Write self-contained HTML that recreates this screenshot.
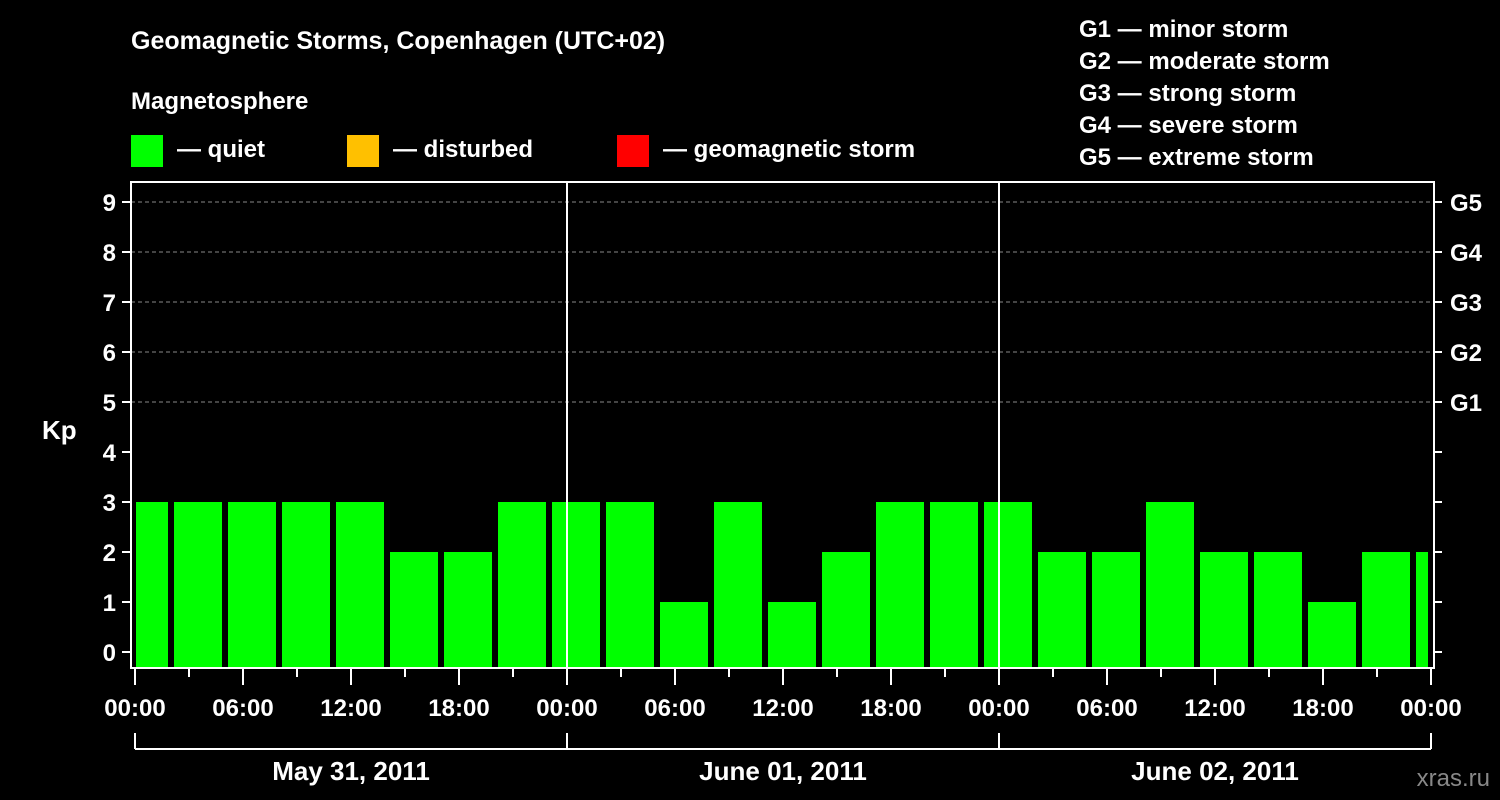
<!DOCTYPE html>
<html><head><meta charset="utf-8"><style>
html,body{margin:0;padding:0;background:#000;}
svg{display:block;font-family:"Liberation Sans",Arial,sans-serif;font-weight:bold;}
</style></head><body>
<svg id="chart" width="1500" height="800" viewBox="0 0 1500 800">
<rect x="0" y="0" width="1500" height="800" fill="#000"/>
<text x="131" y="49" fill="#fff" font-size="25">Geomagnetic Storms, Copenhagen (UTC+02)</text>
<text x="131" y="109" fill="#fff" font-size="24">Magnetosphere</text>
<g><rect x="131" y="135" width="32" height="32" fill="#00ff00"/><text x="177" y="157" fill="#fff" font-size="24">— quiet</text></g>
<g><rect x="347" y="135" width="32" height="32" fill="#ffc000"/><text x="393" y="157" fill="#fff" font-size="24">— disturbed</text></g>
<g><rect x="617" y="135" width="32" height="32" fill="#ff0000"/><text x="663" y="157" fill="#fff" font-size="24">— geomagnetic storm</text></g>
<g fill="#fff" font-size="24">
<text x="1079" y="37">G1 — minor storm</text>
<text x="1079" y="69">G2 — moderate storm</text>
<text x="1079" y="101">G3 — strong storm</text>
<text x="1079" y="133">G4 — severe storm</text>
<text x="1079" y="165">G5 — extreme storm</text>
</g>
<text x="42" y="439" fill="#fff" font-size="26">Kp</text>
<text x="1490" y="786" fill="#888" font-size="24" text-anchor="end" font-weight="normal">xras.ru</text>
<g id="plot"></g>
</svg>
<script>
const kpValues=[3,3,3,3,3,2,2,3,3,3,1,3,1,2,3,3,3,2,2,3,2,2,1,2,2];
const yTicks=[0,1,2,3,4,5,6,7,8,9];
const gLabels=["G1","G2","G3","G4","G5"];
const xLabels=["00:00","06:00","12:00","18:00","00:00","06:00","12:00","18:00","00:00","06:00","12:00","18:00","00:00"];
const dayLabels=["May 31, 2011","June 01, 2011","June 02, 2011"];
const X0=135,PXH=18,L=131,R=1434,T=182,B=668;
const xs=h=>X0+h*PXH;
const ys=v=>652-50*v;
const g=document.getElementById('plot');
const NS='http://www.w3.org/2000/svg';
function mk(t,a,p){const e=document.createElementNS(NS,t);for(const k in a)e.setAttribute(k,a[k]);(p||g).appendChild(e);return e;}
kpValues.forEach((v,i)=>{
 let h0=-1+3*i,h1=h0+3;
 let x0=Math.max(xs(h0)+3,L+5),x1=Math.min(xs(h1)-3,R-6);
 const c=v>=5?'#ff0000':(v>=4?'#ffc000':'#00ff00');
 const r=mk('rect',{x:x0,y:ys(v),width:x1-x0,height:B-1-ys(v),fill:c});
 
 
});
yTicks.forEach(v=>{
 const y=ys(v);
 mk('line',{x1:122,x2:L,y1:y,y2:y,stroke:'#fff','stroke-width':2});
 mk('line',{x1:R,x2:1442,y1:y,y2:y,stroke:'#fff','stroke-width':2});
 if(v>=5) mk('line',{x1:L,x2:R,y1:y,y2:y,stroke:'#888','stroke-width':1,'stroke-dasharray':'4,3'});
 const t=mk('text',{x:116,y:y+9,fill:'#fff','font-size':24,'text-anchor':'end'});t.textContent=v;
 
 
 if(v>=5){const gt=mk('text',{x:1450,y:y+9,fill:'#fff','font-size':24});gt.textContent=gLabels[v-5];
  
  }
});
mk('rect',{x:L,y:T,width:R-L,height:B-T,fill:'none',stroke:'#fff','stroke-width':2});
[1,2].forEach(d=>mk('line',{x1:xs(24*d),x2:xs(24*d),y1:T,y2:B,stroke:'#fff','stroke-width':2}));
for(let h=0;h<=72;h+=3){const maj=h%6===0;mk('line',{x1:xs(h),x2:xs(h),y1:B,y2:maj?685:677,stroke:'#fff','stroke-width':2});}
xLabels.forEach((s,i)=>{const t=mk('text',{x:xs(6*i),y:716,fill:'#fff','font-size':24,'text-anchor':'middle'});t.textContent=s;
 
 });
mk('line',{x1:xs(0),x2:xs(72),y1:749,y2:749,stroke:'#fff','stroke-width':2});
for(let d=0;d<=3;d++) mk('line',{x1:xs(24*d),x2:xs(24*d),y1:733,y2:749,stroke:'#fff','stroke-width':2});
dayLabels.forEach((s,i)=>{const t=mk('text',{x:xs(24*i+12),y:780,fill:'#fff','font-size':26,'text-anchor':'middle'});t.textContent=s;
 
 });
</script>
</body></html>
